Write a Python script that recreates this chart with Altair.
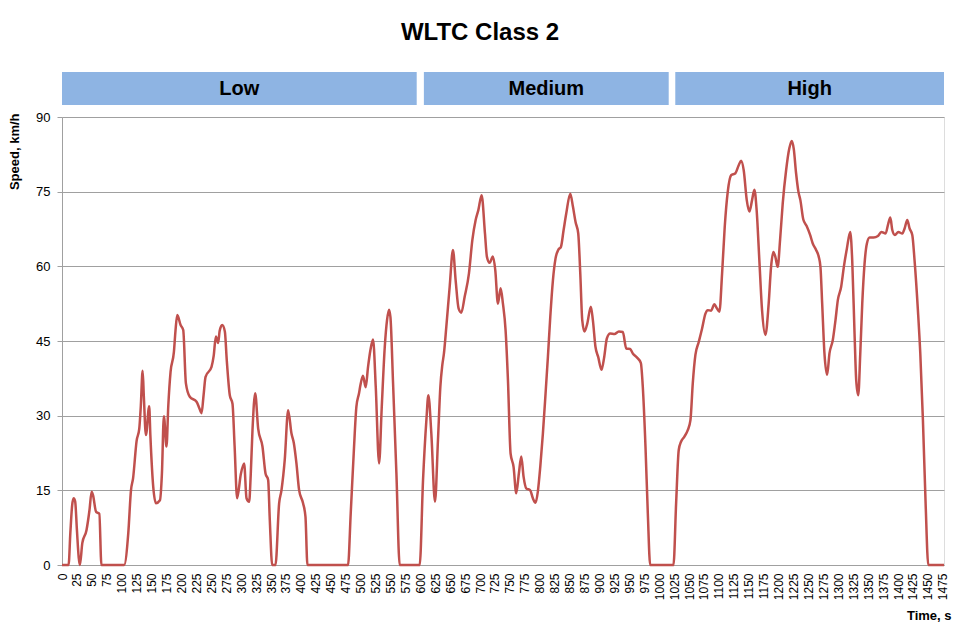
import altair as alt
import pandas as pd

# Traced speed profile (time in s, speed in km/h)
time_s = [
    0, 11, 14, 17, 19.5, 22, 25, 28, 30,
    34, 41, 46, 49.6, 52, 57, 59.5, 62.5, 66,
    104, 111, 115.5, 119, 125, 129.4, 132, 135, 137, 140.5, 146, 148, 152.8, 157.3, 164,
    167.3, 170.6, 175, 178, 181.8, 187.4, 190, 193, 198.6, 203, 207.5, 214, 225.3, 230,
    233.7, 237, 240.4, 250.4, 254, 257.7, 261.5, 264, 268.2, 272.7, 276, 281, 285.5, 289,
    293.3, 299.5, 305, 309, 313.4, 316, 319, 323.5, 328.5, 335.7, 340.8, 345.2, 348, 352,
    357.5, 363.6, 367.5, 373, 378.7, 384.3, 388.2, 392.6, 397, 403.7, 407.7, 411,
    479, 483.5, 488.5, 493, 497.4, 499.7, 504, 508.6, 512.5, 516.5, 520.9, 525.4, 531,
    535.4, 540.5, 544.3, 547.6, 550, 554.4, 560, 565.5,
    599, 604.6, 610.2, 613.5, 618.5, 624.6, 629.6, 633.6, 636.9, 639.6, 643.6, 649.2,
    654.7, 659.2, 664.2, 668.7, 674.3, 681.5, 687.2, 692.7, 697.2, 702.7, 708.3, 711.6,
    716.1, 721.6, 725.6, 730, 734.5, 738.4, 742.8, 746.8, 751.2, 756.2, 760.7, 765.1,
    769.1, 773, 777.4, 784.1, 788.5, 793, 796.9, 800.9, 805.3, 809.8, 813.7, 817.7,
    822.1, 826.5, 831, 835.5, 840, 844.4, 851.1, 855.6, 860, 864.5, 867.9, 871.2, 875,
    879.6, 885.6, 889, 893.4, 897.9, 903.5, 908, 912.4, 918, 925.2, 932.5, 939.2, 944.8,
    951.4, 955.9, 962.6, 969.3, 972.6, 977.1, 981, 985,
    1024, 1028.4, 1032.8, 1036.8, 1042.3, 1047.9, 1052.4, 1056.3, 1060.7, 1066.3, 1071.9,
    1077.5, 1081.4, 1087, 1092.5, 1096.5, 1100.9, 1105.4, 1109.8, 1114.9, 1120.5, 1127.7,
    1133.2, 1137.2, 1141.6, 1146.7, 1151.1, 1155.6, 1159.5, 1163.3, 1167.8, 1172.3, 1177.9,
    1183.4, 1187.4, 1191.3, 1194.6, 1198.5, 1202.5, 1206.9, 1212.6, 1218, 1222, 1225.4,
    1229.3, 1233.2, 1236.5, 1241.4, 1247, 1252.8, 1257.2, 1262.8, 1267.3, 1270.1, 1273,
    1276.8, 1281.3, 1285.2, 1290.8, 1295.3, 1299.2, 1304.8, 1309.3, 1314.4, 1320, 1323.3,
    1327.2, 1330, 1333.4, 1336.8, 1340.1, 1344, 1347.9, 1352.4, 1359.1, 1366.4, 1372,
    1379.2, 1383.7, 1387.1, 1390.4, 1394.8, 1400.5, 1407.2, 1411, 1415.5, 1419.4, 1423.9,
    1427.7, 1433.3, 1437.3, 1441.7, 1446.2, 1450.7, 1477,
]
speed_kmh = [
    0, 0, 6.5, 12, 13.4, 12.8, 7, 1.5, 0,
    4.4, 7, 11, 14.7, 14, 10.7, 10.5, 10.3, 0,
    0, 6.4, 15, 17.4, 25, 27.4, 32, 39, 34, 26.1, 31.9, 26, 15.7, 12.4, 13,
    18.3, 29.9, 23.8, 32, 38.8, 42.8, 47, 50.2, 48.2, 47.2, 36.5, 33.8, 32.8, 31.5,
    30.5, 34, 37.8, 39.8, 42, 45.9, 44.6, 47, 48.2, 46.9, 41, 34.1, 32.4, 24,
    13.4, 18.3, 20.4, 13.4, 12.7, 18, 27.1, 34.5, 27.4, 23.8, 18.4, 17.1, 9, 0,
    0, 12.4, 15, 21.1, 31.1, 26.4, 24.5, 20.4, 15.1, 12.4, 9.7, 0,
    0, 10.4, 22.4, 31.8, 34.5, 36.1, 38, 35.7, 39.8, 43.2, 45.3, 35.8, 20.4,
    31.6, 43.8, 49.2, 51.3, 49.8, 36.5, 18.4, 0,
    0, 17.1, 29.1, 34.1, 26.4, 12.7, 25.1, 35.8, 40.2, 42.5, 47.9, 55.9,
    63.3, 57.2, 51.5, 50.7, 53.9, 58.6, 65.3, 69.3, 71.3, 74.3, 66.6, 61.9,
    60.7, 62.0, 59.2, 52.5, 55.6, 52.5, 47.2, 37.1, 22.4, 19.7, 14.4, 18.4,
    21.8, 17.7, 15.4, 15, 13.4, 12.5, 14.8, 19.7, 26.4, 34.5, 41.8, 49.9,
    57.2, 61.6, 63.3, 63.9, 67.3, 70.6, 74.6, 72, 68.9, 66.6, 58.6, 49.2, 46.9,
    48.5, 51.9, 49.2, 43.8, 41.8, 39.2, 41.8, 45.5, 46.5, 46.4, 46.9, 46.8, 43.5,
    43.4, 42.5, 41.7, 40.6, 35.8, 23.8, 10.4, 0,
    0, 12.4, 23.1, 24.8, 25.8, 27.1, 29.1, 36.5, 42.2, 44.8, 47.5,
    50.5, 51.2, 51.1, 52.4, 51.6, 50.9, 58.6, 67.9, 75, 78.3, 78.7,
    80.3, 81.2, 79.3, 73.3, 71, 73.3, 75.4, 71.2, 61.2, 51.2, 46.2,
    52.5, 59.9, 62.9, 61.9, 59.9, 65.3, 72.6, 79.3, 83.7, 85.2, 83.6,
    78.7, 75, 73.3, 69.4, 68.1, 66.3, 64.6, 63.3, 61.9, 59.9, 52.5,
    42.5, 38.2, 42.5, 45.2, 49.2, 53.2, 55.9, 59.9, 63.6, 66.9, 61.2,
    46.5, 37.1, 34.1, 42.5, 52.5, 60.6, 64.6, 65.8, 65.8, 66.1, 66.9,
    66.6, 68.6, 69.8, 67.3, 66.3, 66.9, 66.6, 67.6, 69.3, 67.6, 66.3,
    61.2, 51.2, 42.5, 29.1, 12.4, 0, 0,
]

phase_names = ["Low", "Medium", "High"]
phase_start = [0, 606, 1027]
phase_end = [594, 1016, 1477]

x_tick_values = list(range(0, 1476, 25))
y_tick_values = [0, 15, 30, 45, 60, 75, 90]

df = pd.DataFrame({"t": time_s, "v": speed_kmh})
bands = pd.DataFrame({"phase": phase_names, "start": phase_start, "end": phase_end})
bands["mid"] = (bands["start"] + bands["end"]) / 2

FONT = "Liberation Sans"
GRAY = "#A0A0A0"

x_scale = alt.Scale(domain=[0, 1477], nice=False, zero=False)
y_scale = alt.Scale(domain=[0, 90], nice=False)

x_axis = alt.Axis(
    values=x_tick_values, title="Time, s", format="d", labelAngle=-90, grid=False,
    ticks=False, labelPadding=8, labelFontSize=12, labelFont=FONT,
    labelColor="black", labelOverlap=False, labelFlush=False,
    domainColor=GRAY, titleX=889, titleY=54, titleAlign="right",
    titleBaseline="alphabetic", titleFontSize=13, titleFont=FONT,
    titleFontWeight="bold", titleColor="black",
)

line = alt.Chart(df).mark_line(
    color="#C0504D", strokeWidth=2.5, interpolate="monotone"
).encode(
    x=alt.X("t:Q", scale=x_scale, axis=x_axis, title="Time, s"),
    y=alt.Y(
        "v:Q", scale=y_scale, title="Speed, km/h",
        axis=alt.Axis(
            values=y_tick_values, title="Speed, km/h", format="d", grid=True,
            gridColor=GRAY, tickColor=GRAY, tickSize=5, labelPadding=7,
            labelFontSize=13, labelFont=FONT, labelColor="black", domainColor=GRAY,
            titleX=-44, titleY=-4, titleAngle=-90, titleAlign="right",
            titleBaseline="alphabetic", titleFontSize=13, titleFont=FONT,
            titleFontWeight="bold", titleColor="black",
        ),
    ),
)

band_rect = alt.Chart(bands).mark_rect(color="#8EB4E3").encode(
    x=alt.X("start:Q", scale=x_scale, axis=x_axis, title="Time, s"),
    x2="end:Q",
    y=alt.value(-45),
    y2=alt.value(-12),
)

band_text = alt.Chart(bands).mark_text(
    fontSize=20, fontWeight="bold", font=FONT, color="black", baseline="middle"
).encode(
    x=alt.X("mid:Q", scale=x_scale, axis=x_axis, title="Time, s"),
    y=alt.value(-28.5),
    text="phase:N",
)

chart = alt.layer(line, band_rect, band_text).properties(
    width=882,
    height=448,
    title=alt.TitleParams(
        "WLTC Class 2", fontSize=24, fontWeight="bold", font=FONT, color="black",
        anchor="middle", dx=-23, offset=8, baseline="alphabetic",
    ),
    padding={"left": 54, "top": 109, "right": 8, "bottom": 58},
    autosize=alt.AutoSizeParams(type="none"),
).configure_view(stroke=None).configure(font=FONT)

chart.save("out.html", embed_options={"renderer": "svg", "actions": False})
